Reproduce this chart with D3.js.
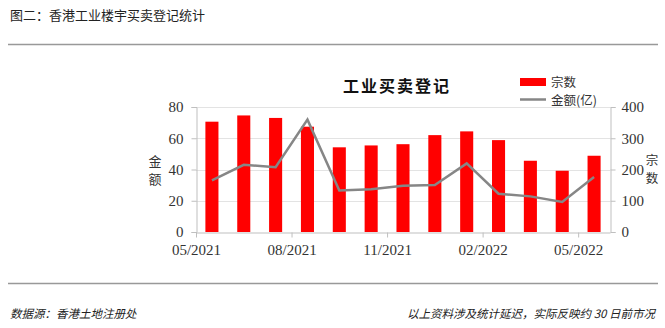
<!DOCTYPE html>
<html>
<head>
<meta charset="utf-8">
<script src="https://cdn.jsdelivr.net/npm/d3@7"></script>
<style>
  body { margin: 0; background: #fff; }
  svg { display: block; }
</style>
</head>
<body>
<svg id="canvas" width="665" height="328"></svg>
<script>
'use strict';

var months = ['05/2021', '06/2021', '07/2021', '08/2021', '09/2021', '10/2021', '11/2021',
  '12/2021', '01/2022', '02/2022', '03/2022', '04/2022', '05/2022'];
var dealCounts = [353, 373, 365, 337, 271, 277, 281, 310, 322, 294, 228, 196, 244];
var amounts = [33, 43, 41.4, 71.9, 26.6, 27.3, 29.6, 30.1, 43.9, 24.5, 22.8, 19.2, 35.2];
var leftTicks = [0, 20, 40, 60, 80];
var rightTicks = [0, 100, 200, 300, 400];
var shownMonths = ['05/2021', '08/2021', '11/2021', '02/2022', '05/2022'];

var SERIF = '"Liberation Serif", "Times New Roman", serif';
var CJK = '"Noto Sans CJK SC", sans-serif';

function RenderChart() {
  var svg = d3.select('#canvas');
  var left = 196, right = 610, top = 107, bottom = 232;

  // header and footer
  svg.append('text')
      .attr('x', 10).attr('y', 20)
      .attr('font-family', CJK).attr('font-size', 13).attr('fill', '#222')
      .text('图二：香港工业楼宇买卖登记统计');
  svg.append('line')
      .attr('x1', 8).attr('x2', 658).attr('y1', 44.5).attr('y2', 44.5)
      .attr('stroke', '#999').attr('stroke-width', 1.5);
  svg.append('line')
      .attr('x1', 8).attr('x2', 658).attr('y1', 283.5).attr('y2', 283.5)
      .attr('stroke', '#999').attr('stroke-width', 1.5);
  svg.append('text')
      .attr('x', 10).attr('y', 318)
      .attr('font-family', CJK).attr('font-size', 11.5).attr('font-style', 'italic')
      .attr('fill', '#222')
      .text('数据源：香港土地注册处');
  svg.append('text')
      .attr('x', 655).attr('y', 318).attr('text-anchor', 'end')
      .attr('font-family', CJK).attr('font-size', 11.5).attr('font-style', 'italic')
      .attr('fill', '#222')
      .text('以上资料涉及统计延迟，实际反映约 30 日前市况');

  var x = d3.scaleBand().domain(months).range([left, right]);
  var yLeft = d3.scaleLinear().domain([0, 80]).range([bottom, top]);
  var yRight = d3.scaleLinear().domain([0, 400]).range([bottom, top]);

  // gridlines
  svg.append('g').selectAll('line')
      .data(leftTicks.slice(1))
    .enter().append('line')
      .attr('x1', left).attr('x2', right)
      .attr('y1', function(d) { return Math.round(yLeft(d)) + 0.5; })
      .attr('y2', function(d) { return Math.round(yLeft(d)) + 0.5; })
      .attr('stroke', '#e3e3e3');

  // bars
  var barW = x.bandwidth() * 0.41;
  svg.append('g').selectAll('rect')
      .data(dealCounts)
    .enter().append('rect')
      .attr('x', function(d, i) { return x(months[i]) + (x.bandwidth() - barW) / 2; })
      .attr('y', function(d) { return yRight(d); })
      .attr('width', barW)
      .attr('height', function(d) { return bottom - yRight(d); })
      .attr('fill', '#ff0000');

  // line
  var line = d3.line()
      .x(function(d, i) { return x(months[i]) + x.bandwidth() / 2; })
      .y(function(d) { return yLeft(d); });
  svg.append('path')
      .datum(amounts)
      .attr('d', line)
      .attr('fill', 'none')
      .attr('stroke', '#868686')
      .attr('stroke-width', 2.5);

  // axes
  var leftAxis = svg.append('g')
      .attr('transform', 'translate(' + (left + 0.5) + ',0)')
      .call(d3.axisLeft(yLeft).tickValues(leftTicks).tickSize(5).tickPadding(8));
  var rightAxis = svg.append('g')
      .attr('transform', 'translate(' + (right + 0.5) + ',0)')
      .call(d3.axisRight(yRight).tickValues(rightTicks).tickSize(5).tickPadding(6));
  var bottomAxis = svg.append('g')
      .attr('transform', 'translate(0,' + (bottom + 0.5) + ')')
      .call(d3.axisBottom(x).tickValues(shownMonths).tickSize(5).tickPadding(4)
        .tickSizeOuter(0));
  bottomAxis.selectAll('.tick')
      .attr('transform', function(d) { return 'translate(' + (x(d) + 0.5) + ',0)'; });

  [leftAxis, rightAxis, bottomAxis].forEach(function(a) {
    a.select('.domain').attr('stroke', '#bfbfbf');
    a.selectAll('.tick line').attr('stroke', '#bfbfbf');
    a.selectAll('text')
        .attr('font-family', SERIF).attr('font-size', 15).attr('fill', '#333');
  });
  bottomAxis.selectAll('text').attr('dy', '0.9em');

  // axis titles
  svg.append('g').selectAll('text')
      .data(['金', '额'])
    .enter().append('text')
      .attr('x', 155).attr('y', function(d, i) { return 166 + i * 18; })
      .attr('text-anchor', 'middle')
      .attr('font-family', CJK).attr('font-size', 13).attr('fill', '#333')
      .text(function(d) { return d; });
  svg.append('g').selectAll('text')
      .data(['宗', '数'])
    .enter().append('text')
      .attr('x', 652).attr('y', function(d, i) { return 165 + i * 18; })
      .attr('text-anchor', 'middle')
      .attr('font-family', CJK).attr('font-size', 12.5).attr('fill', '#333')
      .text(function(d) { return d; });

  // chart title
  svg.append('text')
      .attr('x', 397).attr('y', 92).attr('text-anchor', 'middle')
      .attr('font-family', CJK).attr('font-size', 16).attr('font-weight', 'bold')
      .attr('letter-spacing', 2).attr('fill', '#111')
      .text('工业买卖登记');

  // legend
  svg.append('rect')
      .attr('x', 520).attr('y', 78).attr('width', 26).attr('height', 8)
      .attr('fill', '#ff0000');
  svg.append('text')
      .attr('x', 551).attr('y', 86.5)
      .attr('font-family', CJK).attr('font-size', 12.5).attr('fill', '#333')
      .text('宗数');
  svg.append('line')
      .attr('x1', 520).attr('x2', 546).attr('y1', 99.5).attr('y2', 99.5)
      .attr('stroke', '#868686').attr('stroke-width', 2.5);
  svg.append('text')
      .attr('x', 551).attr('y', 104.5)
      .attr('font-family', CJK).attr('font-size', 12.5).attr('fill', '#333')
      .text('金额(亿)');
}

RenderChart();
</script>
</body>
</html>
